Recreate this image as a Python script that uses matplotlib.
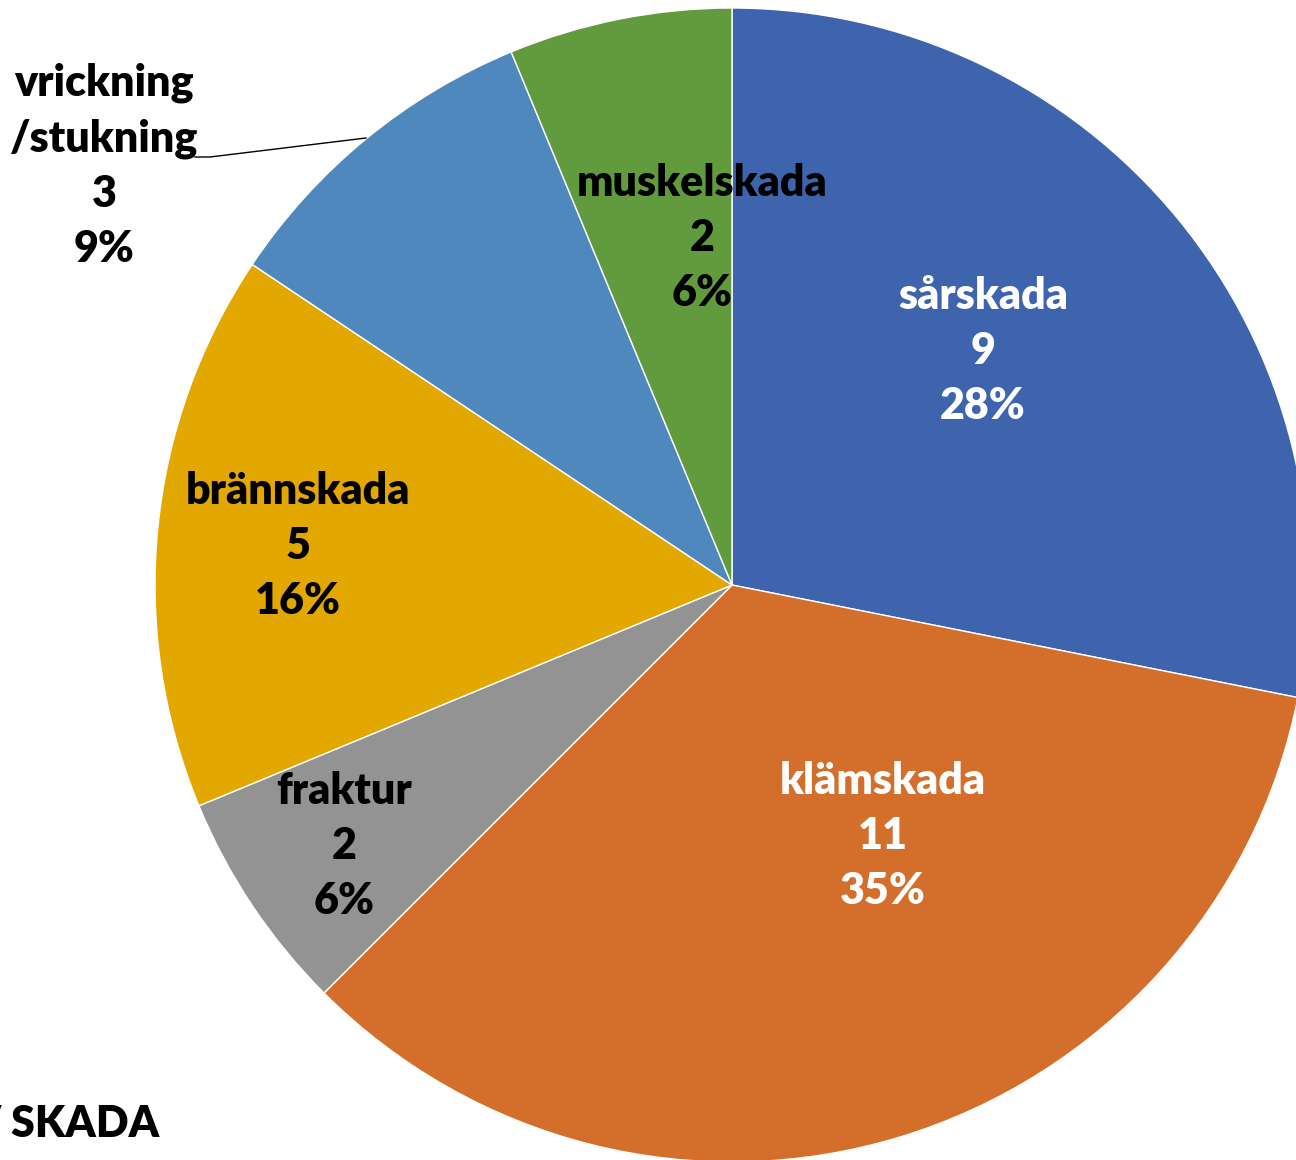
import numpy as np
import matplotlib
matplotlib.use('Agg')
import matplotlib.pyplot as plt

# data
kategorier = ['sårskada', 'klämskada', 'fraktur', 'brännskada',
              'vrickning\n/stukning', 'muskelskada']
antal = [9, 11, 2, 5, 3, 2]
procent = [28, 35, 6, 16, 9, 6]

FARGER = ['#3E64AD', '#D46E2B', '#939393', '#E2A800', '#4E88BD', '#629A3E']
TEXTFARG = ['white', 'white', 'black', 'black', 'black', 'black']
# label centres in pixel coords (x, y from top)
ETIKETT_POS = [(983, 351), (883, 836), (344, 846), (298, 546),
               (104, 166), (702, 238)]

W, H = 1296, 1160
FONT = ['Lato', 'DejaVu Sans']

fig = plt.figure(figsize=(W / 100, H / 100), dpi=100, facecolor='white')
ax = fig.add_axes([0, 0, 1, 1])

cx, cy, r = 732, H - 585, 577
ax.pie(antal, colors=FARGER, startangle=90, counterclock=False,
       center=(cx, cy), radius=r, frame=True,
       wedgeprops=dict(edgecolor='white', linewidth=1.0))
ax.set_xlim(0, W)
ax.set_ylim(0, H)
ax.axis('off')

for namn, n, p, col, (x, y) in zip(kategorier, antal, procent, TEXTFARG, ETIKETT_POS):
    ax.text(x, H - y, f'{namn}\n{n}\n{p}%', ha='center', va='center',
            color=col, fontsize=31, fontweight='heavy', family=FONT,
            linespacing=1.46)

# leader line for vrickning/stukning
ax.plot([195, 210, 366], [H - 157, H - 157, H - 138], color='black', lw=1)

# bottom-left title, partly outside the picture as in the reference
ax.text(160, H - 1124, 'AV SKADA', ha='right', va='center', color='black',
        fontsize=31, fontweight='heavy', family=FONT)

fig.savefig('out.png', dpi=100, facecolor='white')
